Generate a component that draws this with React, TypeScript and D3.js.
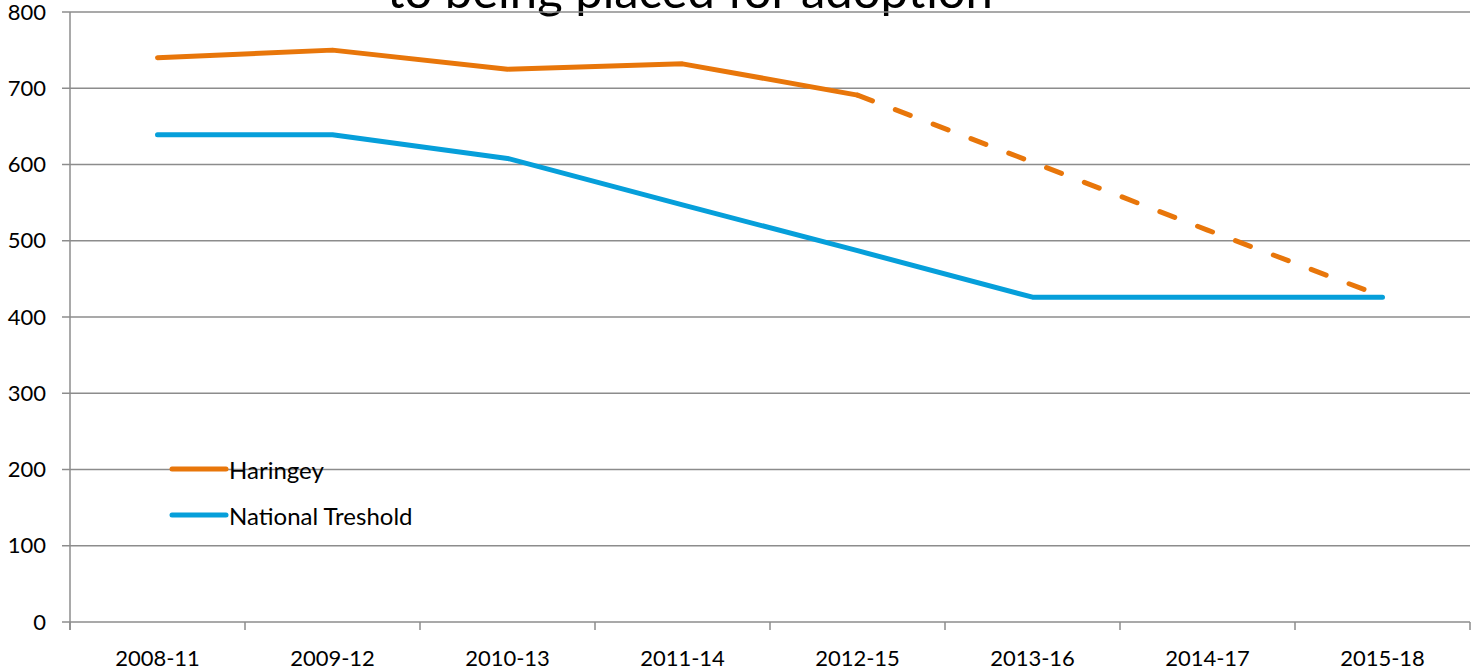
import React from 'react';
import * as d3 from 'd3';

const categories = ['2008-11', '2009-12', '2010-13', '2011-14', '2012-15', '2013-16', '2014-17', '2015-18'];
const haringey = [740, 750, 725, 732, 691, 603, 514, 427];
const nationalThreshold = [639, 639, 608, 547, 487, 426, 426, 426];
const projectionStart = 4; // Haringey drawn dashed from this index on
const yTicks = [0, 100, 200, 300, 400, 500, 600, 700, 800];
const seriesNames = ['Haringey', 'National Treshold'];
const titleLine = 'to being placed for adoption';

const W = 1472;
const H = 672;
const left = 70;
const right = 1470;
const top = 12;
const bottom = 622;
const FONT = 'Lato, "Open Sans", sans-serif';
const ORANGE = '#E8760A';
const BLUE = '#069FDA';
const GRID = '#8c8c8c';

export default function App() {
  const x = d3.scaleBand<string>().domain(categories).range([left, right]).paddingInner(0).paddingOuter(0);
  const y = d3.scaleLinear().domain([0, 800]).range([bottom, top]);
  const cx = (c: string) => (x(c) as number) + x.bandwidth() / 2;

  const line = d3
    .line<[string, number]>()
    .x((d) => cx(d[0]))
    .y((d) => y(d[1]));

  const harPts: [string, number][] = categories.map((c, i) => [c, haringey[i]]);
  const natPts: [string, number][] = categories.map((c, i) => [c, nationalThreshold[i]]);
  const harSolid = harPts.slice(0, projectionStart + 1);
  const harDashed = harPts.slice(projectionStart);

  const boundaries = [...categories.map((c) => x(c) as number), right];

  return (
    <svg
      width={W}
      height={H}
      style={{ position: 'absolute', left: 0, top: 0, background: '#fff' }}
      fontFamily={FONT}
    >
      {/* title (cut off at top in the reference) */}
      <text x={690} y={8} textAnchor="middle" fontSize={49} fill="#000">
        {titleLine}
      </text>

      {/* gridlines */}
      {yTicks.filter((t) => t > 0).map((t) => (
        <line key={t} x1={left} x2={right} y1={y(t)} y2={y(t)} stroke={GRID} strokeWidth={1.5} />
      ))}

      {/* y axis */}
      <line x1={left} x2={left} y1={top} y2={bottom + 8} stroke={GRID} strokeWidth={1.5} />
      {yTicks.map((t) => (
        <g key={t}>
          <line x1={left - 8} x2={left} y1={y(t)} y2={y(t)} stroke={GRID} strokeWidth={1.5} />
          <text x={46} y={y(t) - 1} textAnchor="end" dominantBaseline="central" fontSize={22} fill="#000">
            {t}
          </text>
        </g>
      ))}

      {/* x axis */}
      <line x1={left} x2={right} y1={bottom} y2={bottom} stroke={GRID} strokeWidth={1.5} />
      {boundaries.map((b, i) => (
        <line key={i} x1={b} x2={b} y1={bottom} y2={bottom + 8} stroke={GRID} strokeWidth={1.5} />
      ))}
      {categories.map((c) => (
        <text key={c} x={cx(c)} y={666} textAnchor="middle" fontSize={22} fill="#000">
          {c}
        </text>
      ))}

      {/* series */}
      <path d={line(natPts) || ''} fill="none" stroke={BLUE} strokeWidth={5} strokeLinecap="round" strokeLinejoin="round" />
      <path d={line(harSolid) || ''} fill="none" stroke={ORANGE} strokeWidth={5} strokeLinecap="round" strokeLinejoin="round" />
      <path
        d={line(harDashed) || ''}
        fill="none"
        stroke={ORANGE}
        strokeWidth={5}
        strokeLinecap="round"
        strokeDasharray="16 24.5"
        strokeDashoffset={0}
      />

      {/* legend */}
      {seriesNames.map((n, i) => {
        const ly = 469 + i * 46;
        return (
          <g key={n}>
            <line x1={172} x2={226} y1={ly} y2={ly} stroke={i === 0 ? ORANGE : BLUE} strokeWidth={5} strokeLinecap="round" />
            <text x={229} y={ly} dominantBaseline="central" fontSize={24} fill="#000">
              {n}
            </text>
          </g>
        );
      })}
    </svg>
  );
}
